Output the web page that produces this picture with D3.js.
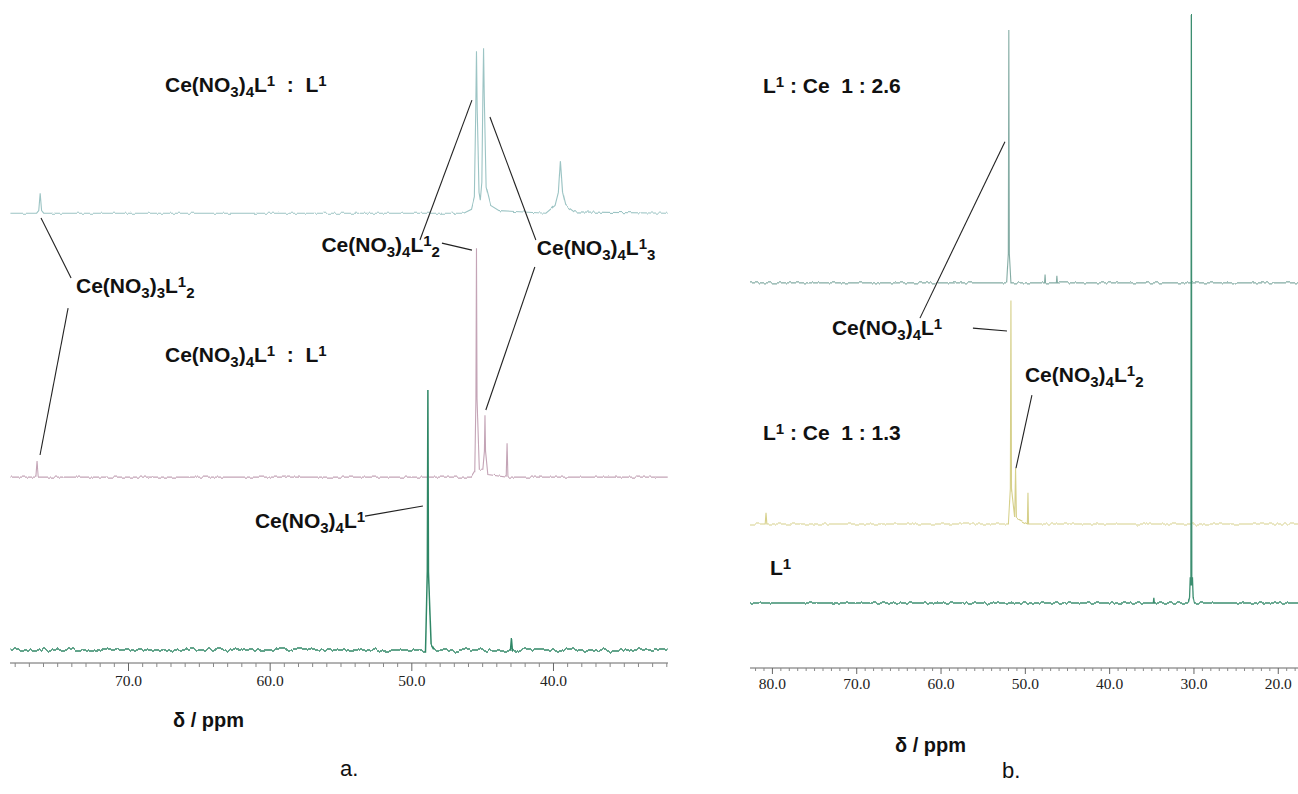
<!DOCTYPE html>
<html>
<head>
<meta charset="utf-8">
<script src="https://cdn.jsdelivr.net/npm/d3@7"></script>
<style>
  body { margin: 0; background: #fff; }
  svg { display: block; }
  .lbl { font-family: "Liberation Sans", Arial, sans-serif; font-weight: bold; font-size: 21px; fill: #111; white-space: pre; }
  .leader { stroke: #222; stroke-width: 1.1; fill: none; }
</style>
</head>
<body>
<svg id="chart" width="1298" height="794"></svg>
<script>
// --- spectra: [ppm, intensity above own baseline] -------------------------
var specA_top = [
  [78.3, 0], [76.45, 0], [76.3, 1], [76.2, 7.7], [76.1, 1], [75.95, 0],
  [46.3, 0], [45.75, 1.5], [45.55, 6], [45.45, 40], [45.4, 62.7], [45.35, 40], [45.22, 8], [45.13, 5],
  [45.02, 12], [44.95, 45], [44.9, 63.8], [44.85, 45], [44.72, 10], [44.4, 3], [43.8, 1],
  [40.5, 0], [39.85, 3], [39.62, 8], [39.48, 20.4], [39.32, 8], [39.1, 3], [38.5, 0.5], [31.9, 0]
];
var specA_mid = [
  [78.3, 0], [76.5, 0], [76.42, 5.8], [76.34, 0],
  [45.75, 0], [45.52, 2], [45.44, 30], [45.4, 88], [45.36, 30], [45.2, 3],
  [44.95, 3], [44.84, 10], [44.8, 23.8], [44.76, 10], [44.6, 1],
  [43.3, 0], [43.24, 13], [43.18, 0], [31.9, 0]
];
var specA_bot = [
  [78.3, 0], [49.0, 0], [48.87, 30], [48.83, 100], [48.79, 30], [48.6, 2], [48.4, 0],
  [43.0, 0], [42.93, 4.6], [42.86, 0], [31.9, 0]
];
var specB_top = [
  [82.6, 0], [52.15, 0], [51.96, 5], [51.9, 43], [51.84, 5], [51.65, 0],
  [47.66, 0], [47.6, 1.4], [47.54, 0], [46.26, 0], [46.2, 1.2], [46.14, 0], [17.6, 0]
];
var specB_mid = [
  [82.6, 0], [80.8, 0], [80.7, 1.9], [80.6, 0],
  [51.95, 0], [51.72, 6], [51.65, 38], [51.58, 6], [51.2, 1], [51.1, 9.5], [51.0, 1],
  [49.7, 0], [49.63, 5.3], [49.56, 0], [17.6, 0]
];
var specB_bot = [
  [82.6, 0], [34.76, 0], [34.7, 0.9], [34.64, 0],
  [30.62, 0], [30.46, 1], [30.38, 4.4], [30.3, 3], [30.25, 100], [30.2, 3], [30.12, 4.4], [30.04, 1], [29.9, 0],
  [17.6, 0]
];

// tick labels
var majorA = [70, 60, 50, 40];
var majorB = [80, 70, 60, 50, 40, 30, 20];

// labels: text uses _x for subscript, ^x for superscript
var labelsA = [
  {t: "Ce(NO_3)_4L^1  :  L^1", ppm: 67.39, v: 219.6},
  {t: "Ce(NO_3)_4L^1  :  L^1", ppm: 67.39, v: 115.8},
  {t: "Ce(NO_3)_3L^1_2", ppm: 73.67, v: 142.3},
  {t: "Ce(NO_3)_4L^1_2", ppm: 47.98, v: 158.1, end: true},
  {t: "Ce(NO_3)_4L^1_3", ppm: 41.14, v: 156.9},
  {t: "Ce(NO_3)_4L^1", ppm: 61.04, v: 51.9}
];
var leadersA = [
  [[76.14, 171.2], [74.02, 148.1]],
  [[74.23, 136.5], [76.21, 80.0]],
  [[45.72, 216.5], [49.39, 162.7]],
  [[44.45, 210.0], [41.21, 162.7]],
  [[47.84, 161.5], [45.72, 158.8]],
  [[41.28, 152.3], [44.74, 97.3]],
  [[53.27, 56.5], [49.18, 60.4]]
];
var labelsB = [
  {t: "L^1 : Ce  1 : 2.6", ppm: 81.07, v: 97.8},
  {t: "Ce(NO_3)_4L^1", ppm: 72.88, v: 56.6},
  {t: "Ce(NO_3)_4L^1_2", ppm: 49.99, v: 48.6},
  {t: "L^1 : Ce  1 : 1.3", ppm: 81.07, v: 38.8},
  {t: "L^1", ppm: 80.24, v: 15.8}
];
var leadersB = [
  [[52.36, 89.5], [62.44, 59.5]],
  [[56.16, 57.8], [52.12, 57.3]],
  [[49.16, 46.4], [51.05, 34.0]]
];

var svg = d3.select("#chart");

// noise filters (vertical jitter only)
var defs = svg.append("defs");
function noiseFilter(id, scale, seed) {
  var f = defs.append("filter").attr("id", id)
    .attr("filterUnits", "userSpaceOnUse").attr("x", 0).attr("y", 0)
    .attr("width", 1298).attr("height", 794)
    .attr("color-interpolation-filters", "sRGB");
  f.append("feTurbulence").attr("type", "fractalNoise")
    .attr("baseFrequency", "0.22 0.01").attr("numOctaves", 2).attr("seed", seed).attr("result", "t");
  f.append("feColorMatrix").attr("in", "t").attr("type", "matrix")
    .attr("values", "0 0 0 0 0.5  0 1 0 0 0  0 0 0 0 0  0 0 0 0 1").attr("result", "m");
  f.append("feDisplacementMap").attr("in", "SourceGraphic").attr("in2", "m")
    .attr("scale", scale).attr("xChannelSelector", "R").attr("yChannelSelector", "G");
}
noiseFilter("nz1", 4, 2);
noiseFilter("nz2", 7, 7);
noiseFilter("nz3", 5, 11);

function formula(g, s, x, y, anchor) {
  var t = g.append("text").attr("class", "lbl").attr("x", x).attr("y", y)
    .attr("text-anchor", anchor || "start");
  var shift = 0, i = 0;
  while (i < s.length) {
    var kind = 0, chunk;
    if (s[i] === "_" || s[i] === "^") {
      kind = s[i] === "_" ? 1 : 2;
      chunk = s[i + 1]; i += 2;
    } else {
      var j = i;
      while (j < s.length && s[j] !== "_" && s[j] !== "^") j++;
      chunk = s.slice(i, j); i = j;
    }
    var target = kind === 1 ? 5 : kind === 2 ? -6 : 0;
    var ts = t.append("tspan").attr("dy", target - shift).text(chunk);
    if (kind) ts.attr("font-size", 15);
    shift = target;
  }
}

function panel(cfg) {
  var g = svg.append("g");
  var x = d3.scaleLinear().domain(cfg.ppm).range(cfg.xr);
  var y = d3.scaleLinear().domain([0, cfg.vmax]).range([cfg.axisY, 0]);

  cfg.traces.forEach(function (tr) {
    var line = d3.line()
      .x(function (d) { return x(d[0]); })
      .y(function (d) { return y(d[1] + tr.base); });
    g.append("path").datum(tr.data)
      .attr("d", line)
      .attr("fill", "none")
      .attr("stroke", tr.color)
      .attr("stroke-width", tr.w)
      .attr("filter", "url(#" + tr.nz + ")");
  });

  // axis: minor ticks, then major with labels
  var lo = Math.ceil(d3.min(cfg.ppm)), hi = Math.floor(d3.max(cfg.ppm));
  var minor = d3.range(lo, hi + 1).filter(function (v) { return v % 10 !== 0; });
  var ax = g.append("g").attr("transform", "translate(0," + cfg.axisY + ")");
  ax.append("g").call(d3.axisBottom(x).tickValues(minor).tickSize(cfg.minorLen).tickFormat(""))
    .call(function (s) {
      s.select(".domain").attr("stroke", "#666").attr("d", "M" + cfg.xr[0] + ",0H" + cfg.xr[1]);
      s.selectAll(".tick line").attr("stroke", "#888");
    });
  ax.append("g").attr("class", "major")
    .call(d3.axisBottom(x).tickValues(cfg.major).tickSize(cfg.majorLen)
      .tickPadding(4).tickFormat(d3.format(".1f")))
    .call(function (s) {
      s.select(".domain").remove();
      s.selectAll(".tick line").attr("stroke", "#666");
      s.selectAll(".tick text").attr("fill", "#222")
        .style("font-family", "'Liberation Serif', 'Times New Roman', serif")
        .style("font-size", "15.5px");
    });

  cfg.leaders.forEach(function (l) {
    g.append("line").attr("class", "leader")
      .attr("x1", x(l[0][0])).attr("y1", y(l[0][1]))
      .attr("x2", x(l[1][0])).attr("y2", y(l[1][1]));
  });
  cfg.labels.forEach(function (l) {
    formula(g, l.t, x(l.ppm), y(l.v), l.end ? "end" : "start");
  });

  g.append("text").attr("class", "lbl").style("font-size", "20px")
    .attr("x", cfg.unit[0]).attr("y", cfg.unit[1]).text("\u03b4 / ppm");
  g.append("text").attr("x", cfg.tag[0]).attr("y", cfg.tag[1])
    .attr("font-family", "Liberation Sans, Arial, sans-serif").attr("font-size", 22)
    .attr("fill", "#111").text(cfg.tagText);
}

panel({
  ppm: [78.33, 31.88], xr: [10, 668], axisY: 663, vmax: 255,
  major: majorA, minorLen: 4, majorLen: 8,
  traces: [
    {data: specA_top, base: 173, color: "#9cc4c4", w: 1.1, nz: "nz1"},
    {data: specA_mid, base: 71.5, color: "#c4a4b6", w: 1.1, nz: "nz1"},
    {data: specA_bot, base: 5, color: "#2f8766", w: 1.5, nz: "nz2"}
  ],
  labels: labelsA, leaders: leadersA,
  unit: [173, 727], tag: [340, 776], tagText: "a."
});

panel({
  ppm: [82.6, 17.6], xr: [750, 1298], axisY: 668, vmax: 113.6,
  major: majorB, minorLen: 3, majorLen: 6,
  traces: [
    {data: specB_top, base: 65.5, color: "#84aca4", w: 1.1, nz: "nz1"},
    {data: specB_mid, base: 24.5, color: "#d6d08a", w: 1.1, nz: "nz1"},
    {data: specB_bot, base: 11.05, color: "#3c8e70", w: 1.3, nz: "nz3"}
  ],
  labels: labelsB, leaders: leadersB,
  unit: [895, 752], tag: [1002, 778], tagText: "b."
});
</script>
</body>
</html>
